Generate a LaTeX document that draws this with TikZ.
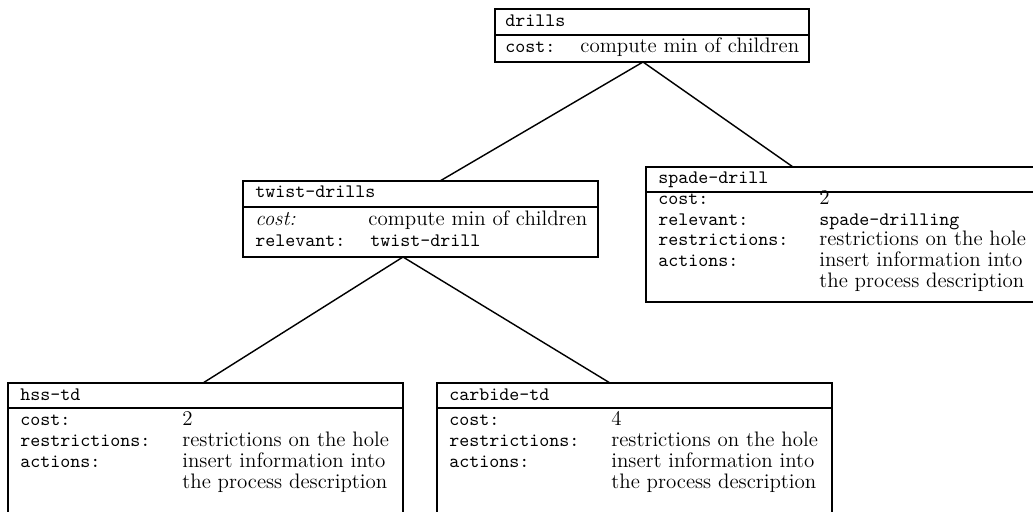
\documentclass[tikz,border=0pt]{standalone}
\newcommand\pxu{0.525pt}
\begin{document}
\begin{tikzpicture}[x=0.525pt, y=-0.525pt,
  framebox/.style={draw, line width=0.8pt, rectangle, inner sep=0pt, outer sep=0pt, anchor=north west},
  divline/.style={line width=0.7pt},
  lbl/.style={anchor=base west, inner sep=0pt, font=\ttfamily\fontsize{10}{12}\selectfont},
  ilbl/.style={anchor=base west, inner sep=0pt, font=\rmfamily\itshape\fontsize{11}{13}\selectfont},
  val/.style={anchor=base west, inner sep=0pt, font=\rmfamily\fontsize{11}{13}\selectfont},
  link/.style={line width=0.75pt}]
\useasboundingbox (0,0) rectangle (1033,511);
\clip (0,0) rectangle (1033,511);

% drills
\node[framebox, minimum width=314*\pxu, minimum height=53*\pxu] (drills) at (495,9) {};
\draw[divline] (drills.west |- 0,35) -- (drills.east |- 0,35);
\node[lbl] (drillsH) at (505,26) {drills};
\node[lbl] (drillsC) at (505,52) {cost:};
\node[val] (drillsCv) at (580,52) {compute min of children};

% twist-drills
\node[framebox, minimum width=355*\pxu, minimum height=76*\pxu] (twist) at (243,181) {};
\draw[divline] (twist.west |- 0,207) -- (twist.east |- 0,207);
\node[lbl] (twistH) at (255,197) {twist-drills};
\node[ilbl] (twistC) at (255,225) {cost:};
\node[val] (twistCv) at (368,225) {compute min of children};
\node[lbl] (twistR) at (255,246) {relevant:};
\node[lbl] (twistRv) at (370,246) {twist-drill};

% spade-drill
\node[framebox, minimum width=399*\pxu, minimum height=135*\pxu] (spade) at (646,167) {};
\draw[divline] (spade.west |- 0,192) -- (spade.east |- 0,192);
\node[lbl] (spadeH) at (658,183) {spade-drill};
\node[lbl] (spadeC) at (658,204) {cost:};
\node[val] (spadeCv) at (819,204) {2};
\node[lbl] (spadeR) at (658,225) {relevant:};
\node[lbl] (spadeRv) at (819,225) {spade-drilling};
\node[lbl] (spadeS) at (658,245) {restrictions:};
\node[val] (spadeSv) at (819,245) {restrictions on the hole};
\node[lbl] (spadeA) at (658,266) {actions:};
\node[val] (spadeAv) at (819,266) {insert information into};
\node[val] (spadeAv2) at (819,287) {the process description};

% hss-td
\node[framebox, minimum width=395*\pxu, minimum height=140*\pxu] (hss) at (8,383) {};
\draw[divline] (hss.west |- 0,408) -- (hss.east |- 0,408);
\node[lbl] (hssH) at (20,400) {hss-td};
\node[lbl] (hssC) at (20,425) {cost:};
\node[val] (hssCv) at (182,425) {2};
\node[lbl] (hssS) at (20,446) {restrictions:};
\node[val] (hssSv) at (182,446) {restrictions on the hole};
\node[lbl] (hssA) at (20,467) {actions:};
\node[val] (hssAv) at (182,467) {insert information into};
\node[val] (hssAv2) at (182,488) {the process description};

% carbide-td
\node[framebox, minimum width=395*\pxu, minimum height=140*\pxu] (carb) at (437,383) {};
\draw[divline] (carb.west |- 0,408) -- (carb.east |- 0,408);
\node[lbl] (carbH) at (449,400) {carbide-td};
\node[lbl] (carbC) at (449,425) {cost:};
\node[val] (carbCv) at (611,425) {4};
\node[lbl] (carbS) at (449,446) {restrictions:};
\node[val] (carbSv) at (611,446) {restrictions on the hole};
\node[lbl] (carbA) at (449,467) {actions:};
\node[val] (carbAv) at (611,467) {insert information into};
\node[val] (carbAv2) at (611,488) {the process description};

% connector ends
\coordinate (drillsOut) at (drills.south west -| 643,0);
\coordinate (twistIn) at (twist.north west -| 440,0);
\coordinate (spadeIn) at (spade.north west -| 793,0);
\coordinate (twistOut) at (twist.south west -| 403,0);
\coordinate (hssIn) at (hss.north west -| 203,0);
\coordinate (carbIn) at (carb.north west -| 610,0);

\draw[link] (drillsOut) -- (twistIn);
\draw[link] (drillsOut) -- (spadeIn);
\draw[link] (twistOut) -- (hssIn);
\draw[link] (twistOut) -- (carbIn);
\end{tikzpicture}
\end{document}
